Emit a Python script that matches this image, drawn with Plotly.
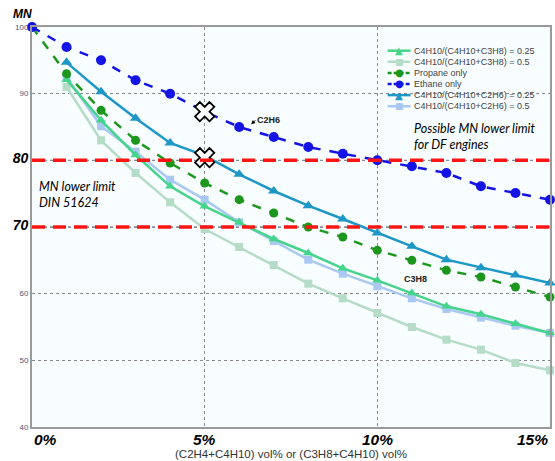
import plotly.graph_objects as go

x_full = list(range(0, 16))
x_part = list(range(1, 16))

ethane = [100, 97, 95, 92, 90, 87.3, 85, 83.5, 82, 81, 80, 79.1, 78.1, 76.1, 75.1, 74.1]
propane = [100, 93, 87.5, 83, 79.6, 76.6, 74.1, 72.1, 70, 68.5, 66.5, 65, 63.5, 62.5, 61, 59.5]
c2h6_025 = [94.7, 90.3, 86.3, 82.6, 80.7, 77.9, 75.4, 73.2, 71.2, 69.1, 67.1, 65.1, 63.9, 62.8, 61.6]
c2h6_05 = [92.5, 85.1, 81.3, 77.1, 74.1, 70.7, 67.9, 65.1, 63.0, 61.1, 59.3, 57.7, 56.4, 55.2, 54.1]
c3h8_025 = [92.1, 86.0, 80.8, 76.1, 73.1, 70.7, 68.2, 66.1, 63.8, 62.0, 60.1, 58.1, 56.9, 55.5, 54.1]
c3h8_05 = [91.0, 83.0, 78.1, 73.7, 69.7, 67.0, 64.3, 61.5, 59.3, 57.1, 55.0, 53.1, 51.6, 49.6, 48.5]

names = ["C4H10/(C4H10+C3H8) = 0.25", "C4H10/(C4H10+C3H8) = 0.5", "Propane only",
         "Ethane only", "C4H10/(C4H10+C2H6) = 0.25", "C4H10/(C4H10+C2H6) = 0.5"]

limits = [80, 70]
highlight_x = [5, 5]
highlight_y = [87.3, 80.4]

x_ticks = [0, 5, 10, 15]
x_tick_labels = ["0%", "5%", "10%", "15%"]
y_ticks = [40, 50, 60, 70, 80, 90, 100]
y_tick_labels = ["40", "50", "60", "70", "80", "90", "100"]
y_big = [70, 80]

# styles (legend order)
colors = ["#45d48c", "#b4dcc6", "#1c961c", "#1414e6", "#1d97c6", "#a9c9f2"]
symbols = ["triangle-up", "square", "circle", "circle", "triangle-up", "square"]
glyphs = {"triangle-up": "▲", "square": "■", "circle": "●"}
dashes = ["solid", "solid", "dash", "dash", "solid", "solid"]
msizes = [9, 8, 9, 10, 10, 8]
series_x = [x_part, x_part, x_full, x_full, x_part, x_part]
series_y = [c3h8_025, c3h8_05, propane, ethane, c2h6_025, c2h6_05]
draw_order = [1, 5, 0, 4, 2, 3]

# plot-area geometry in pixels (for legend / text layout)
L, R, T, B = 32, 3, 27, 34
W, H = 555, 461
PW, PH = W - L - R, H - T - B
def px(xp):
    return (xp - L) / PW
def py(yp):
    return 1 - (yp - T) / PH

fig = go.Figure()

for lv in limits:
    fig.add_shape(type="line", xref="paper", yref="y", x0=0, x1=1, y0=lv, y1=lv,
                  line=dict(color="#555555", width=1, dash="dot"), layer="below")
    fig.add_shape(type="line", xref="paper", yref="y", x0=0, x1=1, y0=lv, y1=lv,
                  line=dict(color="#ff1414", width=3.5, dash="13px,8px"), layer="above")

for i in draw_order:
    fig.add_trace(go.Scatter(x=series_x[i], y=series_y[i], name=names[i], mode="lines+markers",
                             line=dict(color=colors[i], width=2.5, dash=dashes[i]),
                             marker=dict(color=colors[i], symbol=symbols[i], size=msizes[i]),
                             cliponaxis=False, showlegend=False))

fig.add_trace(go.Scatter(x=highlight_x, y=highlight_y, mode="markers", showlegend=False,
                         marker=dict(symbol="x", size=17, color="white",
                                     line=dict(color="black", width=1.8)),
                         cliponaxis=False))

# compact legend drawn from names/styles
for i, nm in enumerate(names):
    yy = py(50.7 + i * 11.1)
    fig.add_shape(type="line", xref="paper", yref="paper", x0=px(389), x1=px(412), y0=yy, y1=yy,
                  line=dict(color=colors[i], width=2.5, dash="4px,2px" if dashes[i] == "dash" else "solid"))
    fig.add_annotation(x=px(400.5), y=yy, xref="paper", yref="paper", text=glyphs[symbols[i]],
                       showarrow=False, xanchor="center", yanchor="middle",
                       font=dict(size=10 if symbols[i] != "square" else 9, color=colors[i], family="DejaVu Sans"))
    fig.add_annotation(x=px(413), y=yy, xref="paper", yref="paper", text=nm, showarrow=False,
                       xanchor="left", yanchor="middle",
                       font=dict(size=9, color="#444444", family="Liberation Sans"))

ytext = []
for v, t in zip(y_ticks, y_tick_labels):
    if v in y_big:
        ytext.append('<span style="font-size:14px;color:black"><b><i>' + t + '</i></b></span>')
    else:
        ytext.append(t)

for v, t in zip(x_ticks, x_tick_labels):
    anchor = "left" if v == x_ticks[0] else ("right" if v == x_ticks[-1] else "center")
    fig.add_annotation(x=v, y=0, xref="x", yref="paper", yanchor="top", xanchor=anchor,
                       yshift=-2, text="<b><i>" + t + "</i></b>", showarrow=False,
                       font=dict(size=15.5, color="black", family="Liberation Sans"))

fig.add_annotation(x=px(22), y=py(13.5), xref="paper", yref="paper", xanchor="center", yanchor="middle",
                   text="<b><i>MN</i></b>", showarrow=False,
                   font=dict(size=12, color="black", family="Liberation Sans"))
fig.add_annotation(x=0.5, y=py(462), xref="paper", yref="paper", xanchor="center", yanchor="bottom",
                   text="(C2H4+C4H10) vol% or (C3H8+C4H10) vol%", showarrow=False,
                   font=dict(size=11.5, color="#333333", family="Liberation Sans"))
fig.add_annotation(x=px(539), y=py(119), xref="paper", yref="paper", xanchor="right", yanchor="top",
                   text="<i>Possible MN lower limit<br>for DF engines</i>", showarrow=False, align="left",
                   font=dict(size=12.5, color="black", family="Lato"))
fig.add_annotation(x=px(37), y=0.625, xref="paper", yref="paper", xanchor="left", yanchor="top",
                   text="<i>MN lower limit<br>DIN 51624</i>", showarrow=False, align="left",
                   font=dict(size=12.5, color="black", family="Lato"))
fig.add_annotation(x=6.35, y=85.4, ax=4, ay=-4, text="<b>C2H6</b>", showarrow=True,
                   arrowhead=2, arrowsize=0.8, arrowwidth=1, arrowcolor="black", standoff=0,
                   xanchor="left", yanchor="middle",
                   font=dict(size=9, color="#222222", family="Liberation Sans"))
fig.add_annotation(x=11.48, y=63.3, ax=1, ay=7, text="<b>C3H8</b>", showarrow=True,
                   arrowhead=2, arrowsize=0.8, arrowwidth=1, arrowcolor="black", standoff=0,
                   xanchor="right", yanchor="middle",
                   font=dict(size=9, color="#222222", family="Liberation Sans"))

fig.update_layout(
    width=W, height=H,
    margin=dict(l=L, r=R, t=T, b=B),
    paper_bgcolor="white",
    plot_bgcolor="#f8fdff",
    font=dict(family="Liberation Sans", size=9, color="#333333"),
    showlegend=False,
)
fig.update_xaxes(range=[0, 15], showticklabels=False, ticks="", tickvals=x_ticks,
                 showgrid=True, gridcolor="#8a8a8a", griddash="dot", gridwidth=1,
                 showline=True, linecolor="#9a9a9a", linewidth=2, mirror=True, zeroline=False)
fig.update_yaxes(range=[40, 100], tickvals=y_ticks, ticktext=ytext, ticks="",
                 tickfont=dict(size=8, color="#555577"),
                 showgrid=True, gridcolor="#8a8a8a", griddash="dot", gridwidth=1,
                 showline=True, linecolor="#9a9a9a", linewidth=2, mirror=True, zeroline=False)

fig.write_html("out.html", config={"displayModeBar": False},
               post_script="document.body.style.margin='0';document.body.style.overflow='hidden';")
